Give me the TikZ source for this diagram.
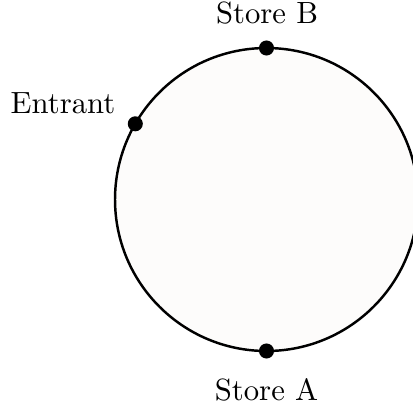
\documentclass[tikz,border=0pt]{standalone}
\definecolor{ringfill}{RGB}{253,252,251}
\begin{document}
\begin{tikzpicture}[x=0.3257pt,y=-0.3257pt,
  ring/.style={draw=black,line width=0.8pt,fill=ringfill},
  dot/.style={circle,fill=black,inner sep=0pt,minimum size=4.9pt},
  lbl/.style={anchor=base,font=\fontsize{10}{12}\selectfont}]
\useasboundingbox (0,0) rectangle (413,410);
\coordinate (c) at (266.5,199.5);
\draw[ring] (c) circle [radius=49.34pt];
\node[dot] (B) at (266.5,48) {};
\node[dot] (A) at (266.5,351) {};
\node[dot] (E) at (135.3,123.8) {};
\node[lbl] (lB) at (267,23) {Store B};
\node[lbl] (lA) at (266.5,400) {Store A};
\node[lbl] (lE) at (63,113) {Entrant};
\end{tikzpicture}
\end{document}
